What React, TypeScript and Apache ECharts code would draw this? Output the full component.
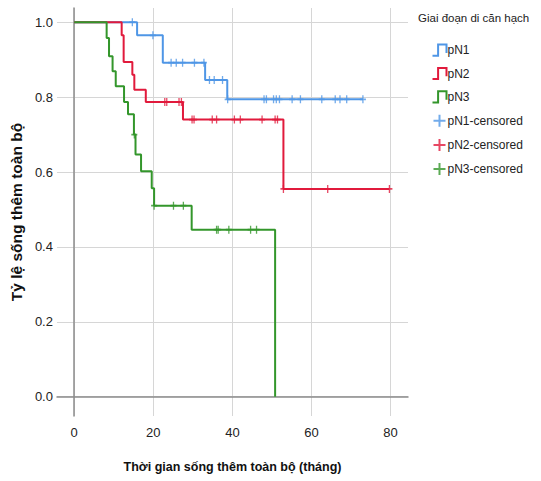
import React, { useEffect, useRef } from 'react';
import * as echarts from 'echarts';

// Tick values
const xTicks = [0, 20, 40, 60, 80];
const yTicks = [0, 0.2, 0.4, 0.6, 0.8, 1.0];

// Kaplan-Meier step curves (time in months, survival proportion)
const pN1Time = [0, 15.9, 22.4, 33.1, 38.7, 73.0];
const pN1Surv = [1.0, 0.965, 0.892, 0.846, 0.794, 0.794];

const pN2Time = [0, 12.0, 12.5, 14.7, 15.2, 18.1, 27.5, 52.9, 79.7];
const pN2Surv = [1.0, 0.965, 0.894, 0.86, 0.82, 0.787, 0.74, 0.555, 0.555];

const pN3Time = [0, 8.2, 8.8, 9.7, 10.5, 12.6, 13.6, 15.1, 15.5, 16.9, 19.6, 20.2, 29.7, 50.8];
const pN3Surv = [1.0, 0.958, 0.909, 0.869, 0.829, 0.787, 0.754, 0.7, 0.647, 0.602, 0.557, 0.51, 0.446, 0];

// Censored observations
const pN1CensTime = [14.7, 19.9, 24.5, 25.8, 27.4, 30.4, 32.8, 34.2, 35.4, 37.5, 38.8, 48.0, 48.6, 50.4, 51.1, 51.9, 55.1, 57.2, 62.6, 66.0, 67.2, 68.9, 73.0];
const pN1CensSurv = [1.0, 0.965, 0.892, 0.892, 0.892, 0.892, 0.892, 0.846, 0.846, 0.846, 0.794, 0.794, 0.794, 0.794, 0.794, 0.794, 0.794, 0.794, 0.794, 0.794, 0.794, 0.794, 0.794];

const pN2CensTime = [22.9, 23.4, 26.5, 27.1, 29.8, 30.3, 34.9, 36.0, 40.5, 42.0, 47.5, 50.8, 51.4, 52.9, 64.1, 79.7];
const pN2CensSurv = [0.787, 0.787, 0.787, 0.787, 0.74, 0.74, 0.74, 0.74, 0.74, 0.74, 0.74, 0.74, 0.74, 0.555, 0.555, 0.555];

const pN3CensTime = [15.2, 20.2, 25.1, 27.6, 36.0, 36.4, 39.1, 44.6, 46.1];
const pN3CensSurv = [0.7, 0.51, 0.51, 0.51, 0.446, 0.446, 0.446, 0.446, 0.446];

const groupNames = ['pN1', 'pN2', 'pN3'];
const colors = ['#4f96e6', '#e11a3c', '#33962b'];

const stepIcon = 'path://M0,9L4,9L4,1L10,1L10,7';
const crossIcon = 'path://M0,5L10,5M5,0L5,10';

const font = "'Liberation Sans', Arial, sans-serif";

function zip(a: number[], b: number[]) {
  return a.map((t, i) => [t, b[i]]);
}

export default function App() {
  const ref = useRef<HTMLDivElement>(null);
  useEffect(() => {
    const chart = echarts.init(ref.current!, null, { renderer: 'svg' });
    const times = [pN1Time, pN2Time, pN3Time];
    const survs = [pN1Surv, pN2Surv, pN3Surv];
    const cTimes = [pN1CensTime, pN2CensTime, pN3CensTime];
    const cSurvs = [pN1CensSurv, pN2CensSurv, pN3CensSurv];

    const lineSeries = groupNames.map((n, i) => ({
      name: n,
      type: 'line',
      step: 'end',
      symbol: 'none',
      showSymbol: false,
      data: zip(times[i], survs[i]),
      lineStyle: { color: colors[i], width: 2 },
      itemStyle: { color: colors[i] },
      z: 2,
    }));
    const censSeries = groupNames.map((n, i) => ({
      name: n + '-censored',
      type: 'scatter',
      symbol: crossIcon,
      symbolSize: [6, 8],
      data: zip(cTimes[i], cSurvs[i]),
      itemStyle: { color: 'none', borderColor: colors[i], borderWidth: 1.5 },
      z: 3,
    }));

    const legendData = [
      ...groupNames.map((n, i) => ({
        name: n,
        icon: stepIcon,
        itemStyle: { color: 'none', borderColor: colors[i], borderWidth: 2 },
      })),
      ...groupNames.map((n, i) => ({
        name: n + '-censored',
        icon: crossIcon,
        itemStyle: { color: 'none', borderColor: colors[i], borderWidth: 2 },
      })),
    ];

    chart.setOption({
      animation: false,
      backgroundColor: '#ffffff',
      title: {
        text: 'Giai đoạn di căn hạch',
        left: 418,
        top: 12,
        padding: 0,
        textStyle: { fontFamily: font, fontSize: 11.5, fontWeight: 'normal', color: '#222' },
      },
      legend: {
        orient: 'vertical',
        left: 430,
        top: 42,
        padding: 0,
        itemWidth: 14,
        itemHeight: 12,
        itemGap: 7.2,
        selectedMode: false,
        data: legendData,
        textStyle: { fontFamily: font, fontSize: 12, color: '#222', padding: [0, 0, 0, -4] },
      },
      grid: { left: 56, right: 133, top: 8, bottom: 65 },
      xAxis: {
        type: 'value',
        min: -4.36,
        max: 84.4,
        name: 'Thời gian sống thêm toàn bộ (tháng)',
        nameLocation: 'middle',
        nameGap: 44,
        nameTextStyle: { fontFamily: font, fontSize: 12.5, fontWeight: 'bold', color: '#111' },
        axisLine: { show: true, lineStyle: { color: '#8c8c8c', width: 1.5 } },
        axisTick: { show: false, customValues: xTicks },
        axisLabel: { customValues: xTicks, margin: 10, fontFamily: font, fontSize: 13, color: '#222' },
        splitLine: { show: true, lineStyle: { color: '#d6d6d6', width: 1 } },
      },
      yAxis: {
        type: 'value',
        min: -0.0515,
        max: 1.038,
        name: 'Tỷ lệ sống thêm toàn bộ',
        nameLocation: 'middle',
        nameGap: 31,
        nameTextStyle: { fontFamily: font, fontSize: 15.5, fontWeight: 'bold', color: '#111' },
        axisLine: { show: true, lineStyle: { color: '#8c8c8c', width: 1.5 } },
        axisTick: { show: false, customValues: yTicks },
        axisLabel: {
          customValues: yTicks,
          margin: 4,
          fontFamily: font,
          fontSize: 13,
          color: '#222',
          formatter: (v: number) => v.toFixed(1),
        },
        splitLine: { show: true, lineStyle: { color: '#d6d6d6', width: 1 } },
      },
      series: [...lineSeries, ...censSeries],
    });
    return () => chart.dispose();
  }, []);
  return (
    <div
      ref={ref}
      style={{ position: 'absolute', left: 0, top: 0, width: 541, height: 481 }}
    />
  );
}
